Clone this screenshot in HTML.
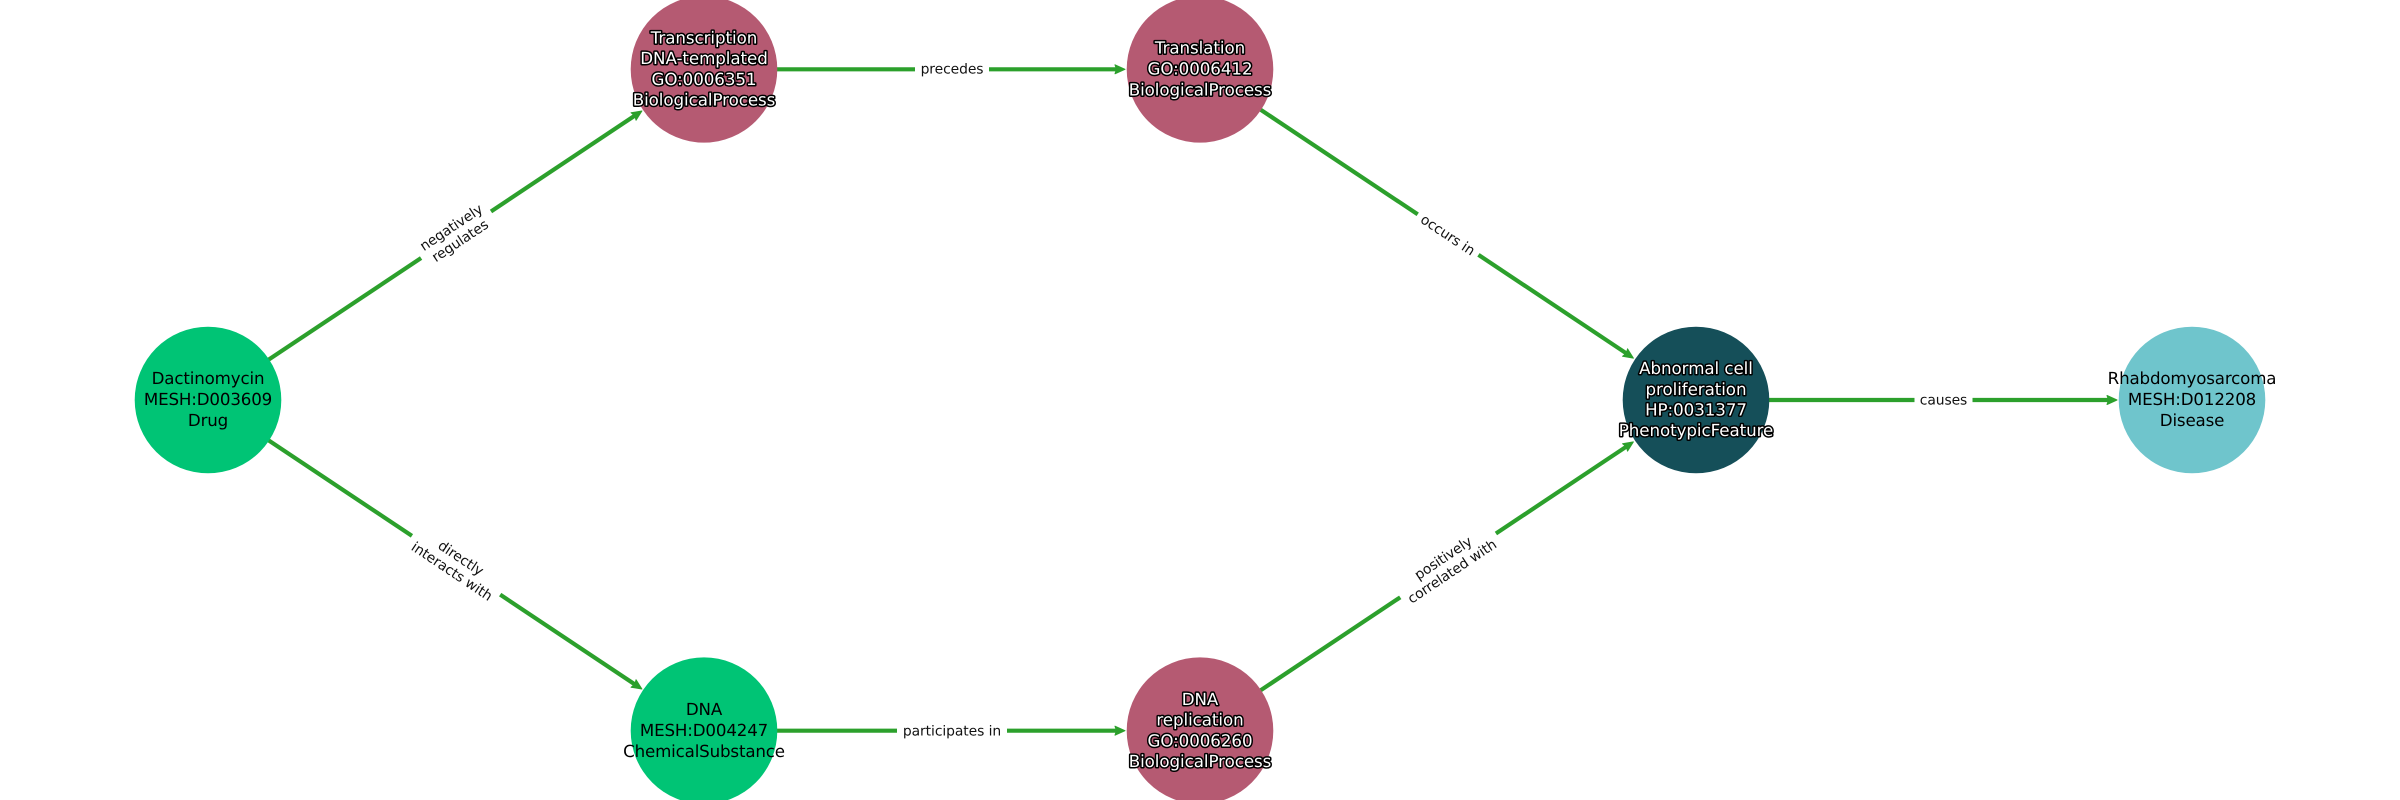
<!DOCTYPE html>
<html>
<head>
<meta charset="utf-8">
<style>
html,body{margin:0;padding:0;background:#fff;width:2400px;height:800px;overflow:hidden}
svg{display:block}
text{font-family:"DejaVu Sans",sans-serif;text-anchor:middle;text-rendering:geometricPrecision}
.n{font-size:16.67px;letter-spacing:-0.15px;fill:#000}
.w{font-size:16.67px;letter-spacing:-0.05px;fill:#fff;stroke:#000;stroke-width:3px;paint-order:stroke;stroke-linejoin:round}
.e{font-size:13.89px;letter-spacing:-0.08px;fill:#111}
line{stroke:#2ca02c;stroke-width:4.17px}
.a{fill:#2ca02c;stroke:#2ca02c;stroke-width:1px;stroke-linejoin:round}
</style>
</head>
<body>
<svg width="2400" height="800" viewBox="0 0 2400 800" xmlns="http://www.w3.org/2000/svg">
<rect width="2400" height="800" fill="#fff"/>

<!-- edges -->
<line x1="208" y1="400" x2="635" y2="115.5"/>
<line x1="208" y1="400" x2="635" y2="684.5"/>
<line x1="704" y1="69.3" x2="1118" y2="69.3"/>
<line x1="704" y1="730.7" x2="1118" y2="730.7"/>
<line x1="1200" y1="69.3" x2="1627" y2="353.8"/>
<line x1="1200" y1="730.7" x2="1627" y2="446.2"/>
<line x1="1696" y1="400" x2="2110" y2="400"/>

<!-- arrowheads -->
<polygon class="a" points="-0.5,0 -10.5,-4.5 -9,0 -10.5,4.5" transform="translate(642.3,110.7) rotate(-33.7)"/>
<polygon class="a" points="-0.5,0 -10.5,-4.5 -9,0 -10.5,4.5" transform="translate(642.3,689.3) rotate(33.7)"/>
<polygon class="a" points="-0.5,0 -10.5,-4.5 -9,0 -10.5,4.5" transform="translate(1125.5,69.3)"/>
<polygon class="a" points="-0.5,0 -10.5,-4.5 -9,0 -10.5,4.5" transform="translate(1125.5,730.7)"/>
<polygon class="a" points="-0.5,0 -10.5,-4.5 -9,0 -10.5,4.5" transform="translate(1633.8,358.4) rotate(33.7)"/>
<polygon class="a" points="-0.5,0 -10.5,-4.5 -9,0 -10.5,4.5" transform="translate(1633.8,441.6) rotate(-33.7)"/>
<polygon class="a" points="-0.5,0 -10.5,-4.5 -9,0 -10.5,4.5" transform="translate(2117.5,400)"/>

<!-- nodes -->
<circle cx="208" cy="400" r="73.3" fill="#00c475"/>
<circle cx="704" cy="69.3" r="73.3" fill="#b55a72"/>
<circle cx="704" cy="730.7" r="73.3" fill="#00c475"/>
<circle cx="1200" cy="69.3" r="73.3" fill="#b55a72"/>
<circle cx="1200" cy="730.7" r="73.3" fill="#b55a72"/>
<circle cx="1696" cy="400" r="73.3" fill="#154f59"/>
<circle cx="2192" cy="400" r="73.3" fill="#6fc5cc"/>

<!-- edge labels -->
<g transform="translate(456,234.7) rotate(-33.7)">
  <rect x="-42" y="-23" width="84" height="46" fill="#fff"/>
  <text class="e" y="-4">negatively</text>
  <text class="e" y="12">regulates</text>
</g>
<g transform="translate(456,565.3) rotate(33.7)">
  <rect x="-53" y="-23" width="106" height="46" fill="#fff"/>
  <text class="e" y="-4">directly</text>
  <text class="e" y="12">interacts with</text>
</g>
<g transform="translate(1448,234.7) rotate(33.7)">
  <rect x="-36.5" y="-15" width="73" height="30" fill="#fff"/>
  <text class="e" y="5">occurs in</text>
</g>
<g transform="translate(1448,565.3) rotate(-33.7)">
  <rect x="-57.5" y="-23" width="115" height="46" fill="#fff"/>
  <text class="e" y="-4">positively</text>
  <text class="e" y="12">correlated with</text>
</g>
<rect x="915" y="54" width="74" height="30" fill="#fff"/>
<text class="e" x="952" y="73.5">precedes</text>
<rect x="897" y="716" width="110" height="30" fill="#fff"/>
<text class="e" x="952" y="735.5">participates in</text>
<rect x="1914.5" y="385" width="58" height="30" fill="#fff"/>
<text class="e" x="1943.5" y="404.5">causes</text>

<!-- node labels -->
<text class="n" x="208" y="384">Dactinomycin</text>
<text class="n" x="208" y="405">MESH:D003609</text>
<text class="n" x="208" y="426">Drug</text>

<text class="w" x="704" y="43.5">Transcription</text>
<text class="w" x="704" y="64.2">DNA-templated</text>
<text class="w" x="704" y="84.9">GO:0006351</text>
<text class="w" x="704" y="105.6">BiologicalProcess</text>

<text class="n" x="704" y="715">DNA</text>
<text class="n" x="704" y="736">MESH:D004247</text>
<text class="n" x="704" y="757">ChemicalSubstance</text>

<text class="w" x="1200" y="53.5">Translation</text>
<text class="w" x="1200" y="74.5">GO:0006412</text>
<text class="w" x="1200" y="95.5">BiologicalProcess</text>

<text class="w" x="1200" y="705">DNA</text>
<text class="w" x="1200" y="725.7">replication</text>
<text class="w" x="1200" y="746.4">GO:0006260</text>
<text class="w" x="1200" y="767">BiologicalProcess</text>

<text class="w" x="1696" y="374">Abnormal cell</text>
<text class="w" x="1696" y="395">proliferation</text>
<text class="w" x="1696" y="415.5">HP:0031377</text>
<text class="w" x="1696" y="436">PhenotypicFeature</text>

<text class="n" x="2192" y="384">Rhabdomyosarcoma</text>
<text class="n" x="2192" y="405">MESH:D012208</text>
<text class="n" x="2192" y="426">Disease</text>
</svg>
</body>
</html>
